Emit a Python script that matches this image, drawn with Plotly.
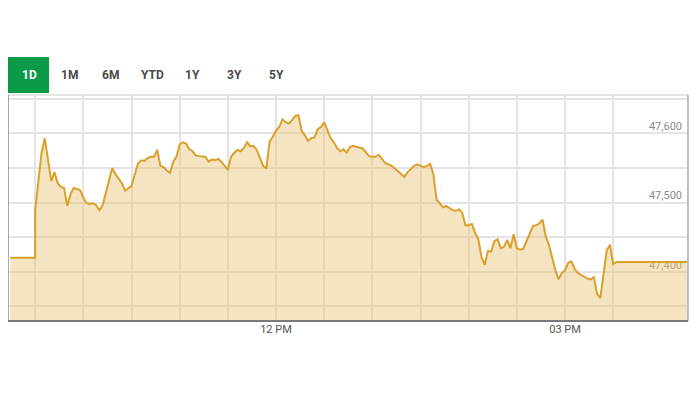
import pandas as pd
import plotly.graph_objects as go

# ---------------- data ----------------
day = "2024-01-01"
prev_close_times = ["09:14:30", "09:30:00"]
prev_close_values = [47420, 47420]

session_start = "09:30"
session_step = "2min"
session_values = [
    47489, 47528, 47572, 47593, 47564, 47531, 47544, 47528, 47523, 47521,
    47495, 47512, 47521, 47520, 47518, 47507, 47499, 47498, 47499, 47496,
    47489, 47496, 47515, 47535, 47550, 47541, 47535, 47528, 47517, 47521,
    47524, 47540, 47556, 47561, 47560, 47564, 47566, 47566, 47576, 47553,
    47551, 47546, 47543, 47559, 47566, 47584, 47587, 47585, 47577, 47574,
    47568, 47567, 47567, 47566, 47559, 47562, 47561, 47563, 47559, 47553,
    47547, 47566, 47572, 47576, 47574, 47579, 47587, 47581, 47582, 47576,
    47564, 47553, 47549, 47588, 47595, 47604, 47609, 47620, 47616, 47614,
    47619, 47625, 47626, 47603, 47597, 47589, 47593, 47594, 47606, 47609,
    47616, 47604, 47593, 47587, 47579, 47574, 47577, 47572, 47580, 47582,
    47580, 47579, 47578, 47572, 47567, 47566, 47566, 47569, 47563, 47557,
    47555, 47553, 47549, 47545, 47540, 47537, 47544, 47549, 47553, 47555,
    47553, 47551, 47553, 47556, 47541, 47504, 47499, 47493, 47495, 47492,
    47489, 47488, 47490, 47485, 47467, 47467, 47469, 47456, 47447, 47421,
    47410, 47430, 47429, 47444, 47447, 47434, 47436, 47446, 47434, 47454,
    47434, 47432, 47433, 47444, 47454, 47466, 47467, 47470, 47475, 47451,
    47439, 47418, 47402, 47389, 47398, 47402, 47413, 47415, 47404, 47398,
    47395, 47392, 47390, 47389, 47392, 47368, 47362, 47397, 47431, 47439,
    47411,
]
close_times = ["15:32:00", "16:16:00"]
close_values = [47414, 47414]

y_tick_values = [47350, 47400, 47450, 47500, 47550, 47600, 47650]
y_tick_labels = ["", "47,400", "", "47,500", "", "47,600", ""]
x_tick_times = ["09:30", "10:00", "10:30", "11:00", "11:30", "12:00", "12:30",
                "13:00", "13:30", "14:00", "14:30", "15:00", "15:30", "16:00"]
x_tick_labels = ["", "", "", "", "", "12 PM", "", "", "", "", "", "03 PM", "", ""]
range_buttons = ["1D", "1M", "6M", "YTD", "1Y", "3Y", "5Y"]

# ---------------- build ----------------
session_times = pd.date_range(f"{day} {session_start}", periods=len(session_values),
                              freq=session_step)
x = ([pd.Timestamp(f"{day} {t}") for t in prev_close_times]
     + list(session_times)
     + [pd.Timestamp(f"{day} {t}") for t in close_times])
y = prev_close_values + session_values + close_values

fig = go.Figure()
fig.add_trace(go.Scatter(
    x=x, y=y, mode="lines",
    line=dict(color="#D9A12B", width=2),
    fill="tozeroy", fillcolor="rgba(232,196,120,0.45)",
    hoverinfo="skip", showlegend=False,
))

W, H = 700, 400
OFF = 8  # page body margin
ml, mr, mt, mb = 0, 20, 87, 87

fig.update_layout(
    width=W, height=H,
    margin=dict(l=ml, r=mr, t=mt, b=mb),
    paper_bgcolor="white", plot_bgcolor="white",
    font=dict(family="Roboto, Arial, sans-serif"),
    xaxis=dict(
        type="date",
        range=[f"{day} 09:13:05", f"{day} 16:16:36"],
        tickmode="array",
        tickvals=[f"{day} {t}" for t in x_tick_times],
        ticktext=x_tick_labels,
        showgrid=True, gridcolor="#e4e4e4", gridwidth=2,
        showline=False, zeroline=False, ticks="",
        tickfont=dict(size=11, color="#555555"),
        fixedrange=True,
    ),
    yaxis=dict(
        side="right",
        range=[47328.8, 47655.3],
        tickmode="array",
        tickvals=y_tick_values,
        ticktext=y_tick_labels,
        ticklabelposition="inside",
        ticklabelshift=-7,
        ticklabelstandoff=3,
        showgrid=True, gridcolor="#e4e4e4", gridwidth=2,
        showline=False, zeroline=False, ticks="",
        tickfont=dict(size=11, color="#8a8a8a"),
        layer="below traces",
        fixedrange=True,
    ),
)

# plot frame
frame = [
    dict(x0=0, x1=1, y0=1, y1=1, color="#dcdcdc", w=1.5),   # top
    dict(x0=1, x1=1, y0=0, y1=1, color="#bdbdbd", w=2),     # right
    dict(x0=0, x1=0, y0=0, y1=1, color="#8c8c8c", w=1.5),   # left
    dict(x0=0, x1=1, y0=0, y1=0, color="#7a7a7a", w=2),     # bottom
]
for f in frame:
    fig.add_shape(type="line", xref="paper", yref="paper",
                  x0=f["x0"], x1=f["x1"], y0=f["y0"], y1=f["y1"],
                  line=dict(color=f["color"], width=f["w"]))

# range selector buttons (decorative), positions given in page pixels
plot_w = W - ml - mr
plot_h = H - mt - mb
def px_to_paper_x(px):
    return (px - OFF - ml) / plot_w
def px_to_paper_y(py):
    return (H - mb - (py - OFF)) / plot_h

fig.add_shape(type="rect", xref="paper", yref="paper",
              x0=px_to_paper_x(7), x1=px_to_paper_x(49),
              y0=px_to_paper_y(93), y1=px_to_paper_y(57),
              fillcolor="#0b9a47", line=dict(width=0), layer="above")
centers = [29, 69, 110, 152, 193, 234, 276]
for label, cx in zip(range_buttons, centers):
    fig.add_annotation(
        xref="paper", yref="paper",
        x=px_to_paper_x(cx), y=px_to_paper_y(75),
        text=f"<b>{label}</b>", showarrow=False,
        xanchor="center", yanchor="middle",
        font=dict(size=12, color="white" if label == "1D" else "#4a4a4a",
                  family="Roboto, Arial, sans-serif"),
    )

fig.write_html("out.html")
